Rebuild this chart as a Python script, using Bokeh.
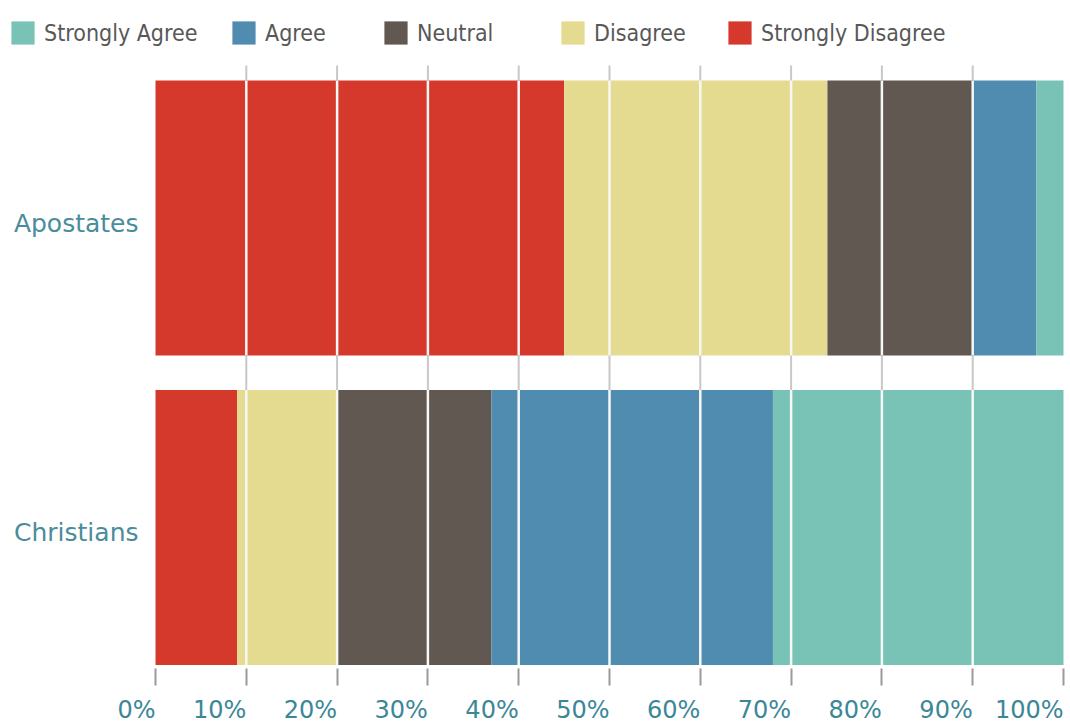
from bokeh.plotting import figure
from bokeh.models import (ColumnDataSource, Range1d, FixedTicker, Legend,
                          LegendItem)
from bokeh.core.properties import value
from bokeh.embed import file_html
from bokeh.resources import INLINE

# Survey data (percent of respondents)
groups = ["Christians", "Apostates"]
responses = ["Strongly Disagree", "Disagree", "Neutral", "Agree", "Strongly Agree"]
strongly_disagree = [9, 45]
disagree = [11, 29]
neutral = [17, 16]
agree = [31, 7]
strongly_agree = [32, 3]
colors = ["#d5392b", "#e4da90", "#625852", "#508bb0", "#78c3b5"]

tick_values = [0, 10, 20, 30, 40, 50, 60, 70, 80, 90, 100]
tick_labels = ["0%", "10%", "20%", "30%", "40%", "50%", "60%", "70%", "80%", "90%", "100%"]
grid_values = tick_values[1:-1]

W, H = 1070, 726
FRAME_BOTTOM = 668
ZERO_PX = 155                      # where 0% sits
PX_PER_PCT = 9.08
UNIT = 309.5                       # pixels between the two bar centres
Y0 = -141 / UNIT                   # data value at the frame bottom
Y1 = Y0 + FRAME_BOTTOM / UNIT      # data value at the frame top
BAR_H = 275 / UNIT
TICK_FONT_PX = 24


def x_at(px):
    return (px - ZERO_PX) / PX_PER_PCT


def y_at(px):
    return Y0 + (FRAME_BOTTOM - px) / UNIT


p = figure(width=W, height=H, output_backend="svg", toolbar_location=None,
           x_range=Range1d(x_at(0), x_at(W)), y_range=Range1d(Y0, Y1),
           y_axis_location=None,
           min_border_left=0, min_border_right=0,
           min_border_top=0, min_border_bottom=H - FRAME_BOTTOM)
p.outline_line_color = None
p.background_fill_color = "white"
p.border_fill_color = "white"
p.xgrid.visible = False
p.ygrid.visible = False

# light vertical guides behind the bars
p.segment(x0=grid_values, x1=grid_values,
          y0=[y_at(664)] * len(grid_values), y1=[y_at(65)] * len(grid_values),
          line_color="#c8c8c8", line_width=2)

src = ColumnDataSource(dict(
    y=list(range(len(groups))),
    **{"Strongly Disagree": strongly_disagree,
       "Disagree": disagree,
       "Neutral": neutral,
       "Agree": agree,
       "Strongly Agree": strongly_agree}))

bars = p.hbar_stack(responses, y="y", height=BAR_H, color=colors,
                    line_color=None, source=src)
by_name = dict(zip(responses, bars))

# white guides across each bar
wx, wy0, wy1 = [], [], []
for i in range(len(groups)):
    for g in grid_values:
        wx.append(g)
        wy0.append(i - BAR_H / 2)
        wy1.append(i + BAR_H / 2)
p.segment(x0=wx, x1=wx, y0=wy0, y1=wy1, line_color="#f6f8f6", line_width=2.5)

# group names to the left of the bars
p.text(x=[x_at(138)] * len(groups), y=[i - 5 / UNIT for i in range(len(groups))],
       text=groups, text_align="right", text_baseline="middle",
       text_font=value("DejaVu Sans"), text_font_size="25px",
       text_color="#4a8c9c")

# x axis: tick marks on the minor ticks at each 10%, labels on major ticks
# shifted so each label ends at its tick mark
label_pos = []
for v, t in zip(tick_values, tick_labels):
    width_px = (0.636 * (len(t) - 1) + 0.95) * TICK_FONT_PX
    label_pos.append(round(v - width_px / 2 / PX_PER_PCT, 3))

ax = p.xaxis[0]
ax.ticker = FixedTicker(ticks=label_pos, minor_ticks=tick_values)
ax.major_label_overrides = {pos: t for pos, t in zip(label_pos, tick_labels)}
ax.axis_line_color = None
ax.major_tick_line_color = None
ax.major_tick_in = 0
ax.major_tick_out = 0
ax.minor_tick_in = 0
ax.minor_tick_out = 17
ax.minor_tick_line_color = "#9a9a9a"
ax.minor_tick_line_width = 2
ax.major_label_standoff = 10
ax.major_label_text_font = "DejaVu Sans"
ax.major_label_text_font_size = f"{TICK_FONT_PX}px"
ax.major_label_text_color = "#3b8797"

# legend row across the top
legend_order = ["Strongly Agree", "Agree", "Neutral", "Disagree", "Strongly Disagree"]
legend_left = [8, 229, 381, 558, 725]
for name, left in zip(legend_order, legend_left):
    leg = Legend(items=[LegendItem(label=name, renderers=[by_name[name]])],
                 location=(left, FRAME_BOTTOM - 47),
                 orientation="horizontal", glyph_width=29, glyph_height=29,
                 label_standoff=7, label_height=29, padding=0, margin=0,
                 spacing=0, border_line_color=None, background_fill_alpha=0,
                 label_text_font="DejaVu Sans Condensed, Roboto",
                 label_text_font_size="23px", label_text_color="#585858")
    p.add_layout(leg)

open("out.html", "w").write(file_html(p, INLINE))
